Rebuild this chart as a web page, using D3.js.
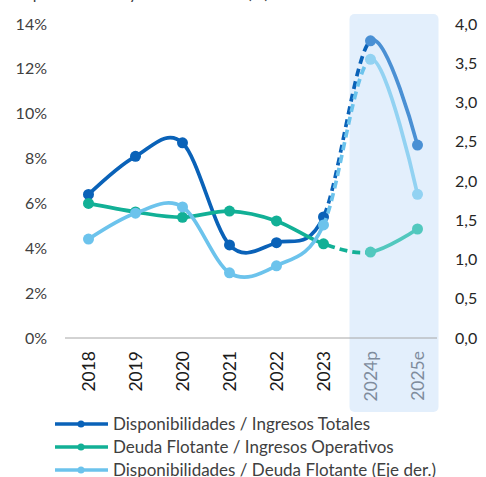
<!DOCTYPE html>
<html>
<head>
<meta charset="utf-8">
<script src="https://cdn.jsdelivr.net/npm/d3@7"></script>
<style>
  body { margin: 0; background: #fff; }
  svg { font-family: Lato, "Open Sans", sans-serif; }
</style>
</head>
<body>
<svg width="486" height="477"></svg>
<script>
const width = 486, height = 477;

// data
const years = ["2018", "2019", "2020", "2021", "2022", "2023", "2024p", "2025e"];
const dispIngresos = [6.4, 8.1, 8.7, 4.15, 4.25, 5.4, 13.25, 8.6];     // %
const deudaIngresos = [6.0, 5.62, 5.38, 5.66, 5.22, 4.2, 3.83, 4.86];  // %
const dispDeuda = [1.26, 1.59, 1.67, 0.83, 0.92, 1.44, 3.55, 1.83];    // eje der.
const leftTicks = [0, 2, 4, 6, 8, 10, 12, 14];
const rightTicks = [0, 0.5, 1, 1.5, 2, 2.5, 3, 3.5, 4];
const legendLabels = [
    "Disponibilidades / Ingresos Totales",
    "Deuda Flotante / Ingresos Operativos",
    "Disponibilidades / Deuda Flotante (Eje der.)"
];

const svg = d3.select("svg");
const plotTop = 24, plotBottom = 338, plotLeft = 65, plotRight = 441;

const x = d3.scalePoint().domain(years).range([plotLeft, plotRight]).padding(0.5);
const yL = d3.scaleLinear().domain([0, 14]).range([plotBottom, plotTop]);
const yR = d3.scaleLinear().domain([0, 4]).range([plotBottom, plotTop]);

// title, cut off by the top edge as in the source image
svg.append("text")
    .attr("x", 10).attr("y", -1)
    .attr("font-size", 16).attr("fill", "#404040")
    .text("Disponibilidades y deuda flotante (%)");

// shaded projection area
const x24 = x("2024p"), x25 = x("2025e");
svg.append("rect")
    .attr("x", x24 - 21).attr("y", 14)
    .attr("width", (x25 - x24) + 42).attr("height", 398)
    .attr("rx", 5)
    .attr("fill", "#e3effc");

// base line
svg.append("line")
    .attr("x1", plotLeft).attr("x2", plotRight - 4)
    .attr("y1", plotBottom).attr("y2", plotBottom)
    .attr("stroke", "#a6a6a6").attr("stroke-width", 1);

// left axis labels
svg.append("g").selectAll("text")
    .data(leftTicks).join("text")
    .attr("x", 47).attr("y", d => yL(d) + 5.5)
    .attr("text-anchor", "end")
    .attr("font-size", 16).attr("fill", "#404040")
    .text(d => d + "%");

// right axis labels
svg.append("g").selectAll("text")
    .data(rightTicks).join("text")
    .attr("x", 455).attr("y", d => yR(d) + 5.5)
    .attr("font-size", 16).attr("fill", "#262626")
    .text(d => d.toFixed(1).replace(".", ","));

// x labels, rotated
svg.append("g").selectAll("text")
    .data(years).join("text")
    .attr("transform", d => `translate(${x(d) + 6.5},${plotBottom + 13}) rotate(-90)`)
    .attr("text-anchor", "end")
    .attr("font-size", 17.5)
    .attr("fill", d => d.length > 4 ? "#7f8c9c" : "#1a1a1a")
    .text(d => d);

// clip regions for solid / dashed / projection parts
const defs = svg.append("defs");
const x23 = x("2023");
[["clipA", 0, x23], ["clipB", x23, x24], ["clipC", x24, width]].forEach(([id, a, b]) => {
    defs.append("clipPath").attr("id", id)
        .append("rect").attr("x", a).attr("y", 0).attr("width", b - a).attr("height", height);
});

const series = [
    { values: dispIngresos, y: yL, c1: "#0a62b8", c2: "#4a90d4" },
    { values: deudaIngresos, y: yL, c1: "#12b096", c2: "#52c8be" },
    { values: dispDeuda, y: yR, c1: "#6cc3ec", c2: "#92d2f2" }
];

const curve = d3.curveCatmullRom.alpha(0);

series.forEach(s => {
    const line = d3.line()
        .x((d, i) => x(years[i]))
        .y(d => s.y(d))
        .curve(curve);
    const g = svg.append("g");
    const d = line(s.values);
    g.append("path").attr("d", d).attr("clip-path", "url(#clipA)")
        .attr("fill", "none").attr("stroke", s.c1).attr("stroke-width", 3.7);
    g.append("path").attr("d", d).attr("clip-path", "url(#clipB)")
        .attr("fill", "none").attr("stroke", s.c1).attr("stroke-width", 3.7)
        .attr("stroke-dasharray", "8,5");
    g.append("path").attr("d", d).attr("clip-path", "url(#clipC)")
        .attr("fill", "none").attr("stroke", s.c2).attr("stroke-width", 3.7);
    g.selectAll("circle")
        .data(s.values).join("circle")
        .attr("cx", (v, i) => x(years[i]))
        .attr("cy", v => s.y(v))
        .attr("r", 5.5)
        .attr("fill", (v, i) => i >= 6 ? s.c2 : s.c1);
});

// legend
const legend = svg.append("g");
legendLabels.forEach((label, i) => {
    const ly = 424 + i * 23;
    legend.append("line")
        .attr("x1", 55).attr("x2", 108).attr("y1", ly).attr("y2", ly)
        .attr("stroke", series[i].c1).attr("stroke-width", 3.7);
    legend.append("circle")
        .attr("cx", 81).attr("cy", ly).attr("r", 3.5)
        .attr("fill", series[i].c1);
    legend.append("text")
        .attr("x", 113).attr("y", ly + 6)
        .attr("font-size", 17).attr("fill", "#404040")
        .text(label);
});
</script>
</body>
</html>
